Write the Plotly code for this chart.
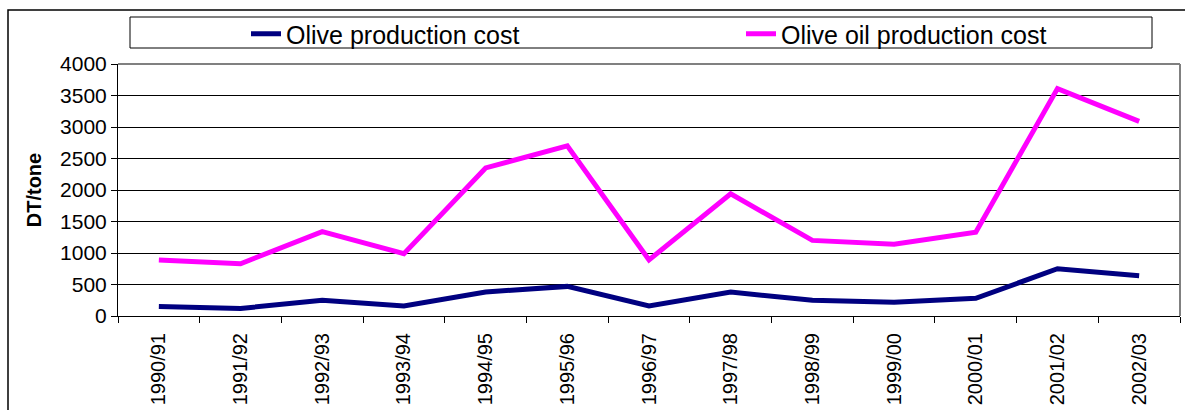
import plotly.graph_objects as go

seasons = ["1990/91", "1991/92", "1992/93", "1993/94", "1994/95", "1995/96", "1996/97",
           "1997/98", "1998/99", "1999/00", "2000/01", "2001/02", "2002/03"]
olive_cost = [150, 120, 250, 160, 380, 470, 160, 380, 250, 220, 280, 750, 640]
olive_oil_cost = [890, 830, 1340, 990, 2350, 2700, 890, 1940, 1200, 1140, 1330, 3610, 3090]
y_ticks = [0, 500, 1000, 1500, 2000, 2500, 3000, 3500, 4000]

W, H = 1185, 410
L, R, T, B = 118, 5, 64, 94
pw, ph = W - L - R, H - T - B

def px(x):
    return (x - L) / pw

def py(y):
    return (H - B - y) / ph

FONT = "Liberation Sans, Arial, sans-serif"

fig = go.Figure()
fig.add_trace(go.Scatter(x=seasons, y=olive_cost, mode="lines", name="Olive production cost",
                         line=dict(color="#000080", width=5), legend="legend"))
fig.add_trace(go.Scatter(x=seasons, y=olive_oil_cost, mode="lines", name="Olive oil production cost",
                         line=dict(color="#FF00FF", width=5), legend="legend2"))

leg_common = dict(orientation="h", yanchor="middle", xanchor="left",
                  bgcolor="rgba(0,0,0,0)", borderwidth=0,
                  font=dict(size=25, family=FONT, color="black"))

fig.update_layout(
    width=W, height=H,
    margin=dict(l=L, r=R, t=T, b=B, autoexpand=False),
    paper_bgcolor="white", plot_bgcolor="white",
    font=dict(family=FONT, color="black", size=21),
    showlegend=True,
    legend=dict(x=px(246), y=py(34), **leg_common),
    legend2=dict(x=px(741), y=py(34), **leg_common),
    xaxis=dict(type="category", range=[-0.5, 12.5], showgrid=False, showline=True,
               linecolor="black", linewidth=1,
               ticks="outside", ticklen=6, tickcolor="black", tickson="boundaries",
               tickangle=-90, tickfont=dict(size=20), ticklabelstandoff=8, fixedrange=True),
    yaxis=dict(range=[0, 4000], tickvals=y_ticks, showgrid=True, gridcolor="black", gridwidth=1,
               showline=True, linecolor="black", linewidth=1, zeroline=False,
               ticks="outside", ticklen=6, tickcolor="black", tickfont=dict(size=21),
               title=dict(text="<b>DT/tone</b>", font=dict(size=20), standoff=13)),
    shapes=[
        # outer chart frame
        dict(type="rect", xref="paper", yref="paper", x0=px(8), x1=px(1195), y0=py(420), y1=py(10),
             line=dict(color="black", width=1.5), layer="below"),
        # legend box
        dict(type="rect", xref="paper", yref="paper", x0=px(130), x1=px(1152), y0=py(48), y1=py(17),
             line=dict(color="black", width=1), layer="above"),
        # plot area top/right border (gray)
        dict(type="line", xref="paper", yref="paper", x0=0, x1=1, y0=1, y1=1,
             line=dict(color="#808080", width=2), layer="above"),
        dict(type="line", xref="paper", yref="paper", x0=1, x1=1, y0=0, y1=1,
             line=dict(color="#808080", width=2), layer="above"),
    ],
)

fig.write_html("out.html")
